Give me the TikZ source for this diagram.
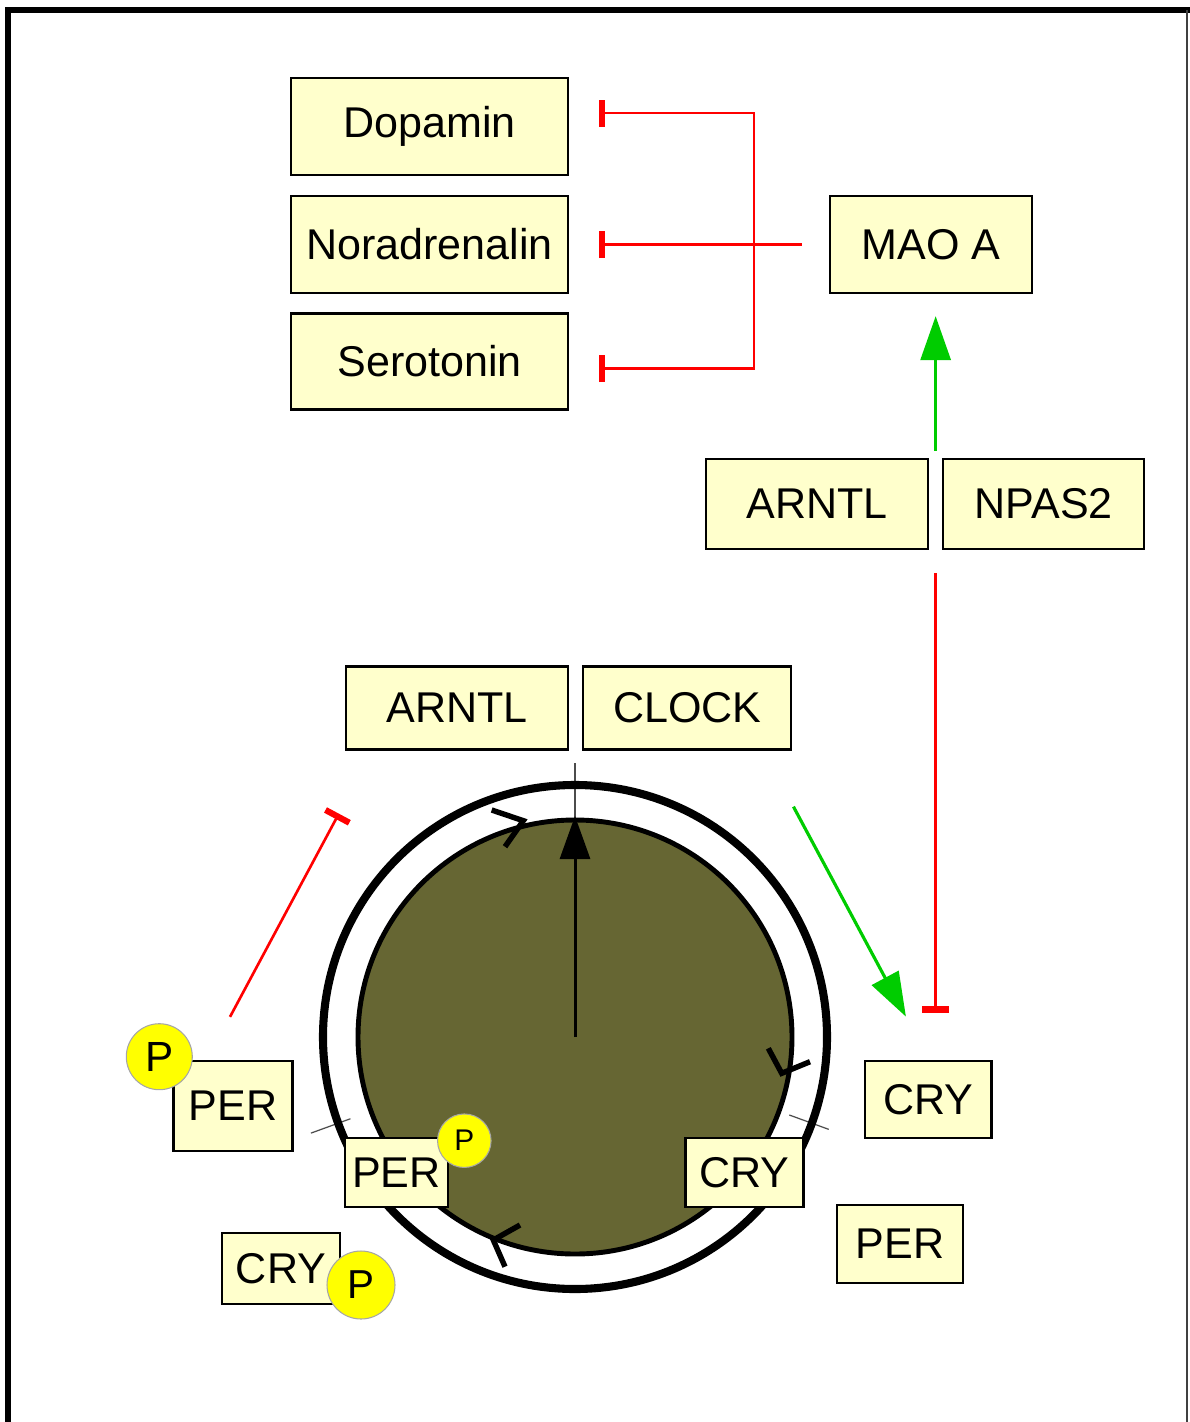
\documentclass[tikz,border=0pt]{standalone}
\usepackage{fontspec}
\setmainfont{Liberation Sans}
\usepackage{tikz}
\usetikzlibrary{arrows.meta,positioning,calc}
\definecolor{boxfill}{RGB}{255,255,204}
\definecolor{nucleus}{RGB}{102,102,51}
\definecolor{actgreen}{RGB}{0,204,0}
\definecolor{inhred}{RGB}{255,0,0}
\definecolor{phos}{RGB}{255,255,0}

\begin{document}
\begin{tikzpicture}[x=0.2mm,y=-0.2mm,
  every node/.style={font=\fontsize{24.5}{29}\selectfont,align=center},
  gene/.style={draw,fill=boxfill,line width=1.3pt,inner sep=0pt},
  phosp/.style={draw=gray!70,fill=phos,circle,inner sep=0pt,line width=0.6pt},
  act/.style={actgreen,line width=1.8pt,-{Triangle[width=0.6cm,length=0.88cm]}},
  inhib/.style={inhred,line width=1.5pt,-{Bar[width=0.54cm,line width=3.5pt]}},
  chev/.style={line width=3.1pt},
  ringtick/.style={gray!60!black,line width=0.7pt}]
  \useasboundingbox (0,0) rectangle (1189,1422);
  \draw[line width=3.4pt] (8,1440) -- (8,10) -- (1192,10);
  \draw[line width=1.2pt,gray!50!black] (1187,10) -- (1187,1440);

  \coordinate (c) at (575,1037);
  \coordinate (hand) at ($(c)+(270:221)$);
  \foreach \a/\ri/\ro in {20/228/270,160/239/281,270/216/274}
    \draw[ringtick] ($(c)+(\a:\ri)$) -- ($(c)+(\a:\ro)$);
  \draw[line width=4.6pt] (c) circle[radius=5.04cm];
  \draw[line width=2.8pt,fill=nucleus] (c) circle[radius=4.34cm];
  \draw[chev] (491.7,810) -- (523.3,820.7) -- (505,846.7);
  \draw[chev] (768.3,1048.3) -- (781.7,1073.3) -- (810,1061.7);
  \draw[chev] (520,1225) -- (493.3,1240) -- (505,1266.7);
  \draw[line width=1.7pt,-{Triangle[width=0.6cm,length=0.86cm]}] (c) -- (hand);

  \node[gene,minimum width=5.54cm,minimum height=1.94cm] (dopa) at (429.5,126.5) {Dopamin};
  \node[gene,minimum width=5.54cm,minimum height=1.94cm,below=0.37cm of dopa] (nor) {Noradrenalin};
  \node[gene,minimum width=5.54cm,minimum height=1.92cm,below=0.37cm of nor] (sero) {Serotonin};
  \node[gene,minimum width=4.04cm,minimum height=1.94cm] (mao) at (931,244.5) {MAO A};
  \node[gene,minimum width=4.44cm,minimum height=1.8cm] (arntl) at (817,504) {ARNTL};
  \node[gene,minimum width=4.02cm,minimum height=1.8cm,right=0.26cm of arntl] (npas) {NPAS2};
  \node[gene,minimum width=4.44cm,minimum height=1.66cm] (arntlc) at (457,708) {ARNTL};
  \node[gene,minimum width=4.16cm,minimum height=1.66cm,right=0.26cm of arntlc] (clock) {CLOCK};
  \node[gene,minimum width=2.38cm,minimum height=1.8cm] (perp) at (233,1106) {PER};
  \node[gene,minimum width=2.06cm,minimum height=1.37cm] (perin) at (396.5,1172.5) {PER};
  \node[gene,minimum width=2.36cm,minimum height=1.42cm] (crybl) at (281,1268.7) {CRY};
  \node[gene,minimum width=2.36cm,minimum height=1.38cm] (cryin) at (744.5,1172.5) {CRY};
  \node[gene,minimum width=2.53cm,minimum height=1.55cm] (cryout) at (928.3,1099.5) {CRY};
  \node[gene,minimum width=2.53cm,minimum height=1.57cm] (perout) at (900,1244) {PER};
  \node[phosp,minimum size=1.32cm,font=\fontsize{24}{28}\selectfont] (pa) at (159.3,1056.7) {P};
  \node[phosp,minimum size=1.07cm,font=\fontsize{17}{20}\selectfont] (pb) at (464.3,1140.7) {P};
  \node[phosp,minimum size=1.36cm,font=\fontsize{23}{27}\selectfont] (pc) at (361,1285) {P};

  \coordinate (split) at ($(mao.west)+(-75,0)$);
  \coordinate (mfree) at ($(mao.west)+(-27,0)$);
  \draw[inhib,shorten >=0.6cm] (mfree) -- (mfree -| nor.east);
  \draw[inhib,shorten >=0.6cm] (split) |- ([yshift=0.27cm]dopa.east);
  \draw[inhib,shorten >=0.6cm] (split) |- ([yshift=-0.14cm]sero.east);
  \coordinate (ctop) at ($(arntl.north east)!0.5!(npas.north west)$);
  \coordinate (cbot) at ($(arntl.south east)!0.5!(npas.south west)$);
  \draw[act,shorten <=0.14cm,shorten >=0.44cm] (ctop) -- (ctop |- mao.south);
  \draw[inhib,shorten <=0.46cm,shorten >=0.94cm] (cbot) -- (cbot |- cryout.north);
  \coordinate (g1) at ($(clock.south east)+(1,56)$);
  \coordinate (g2) at ($(cryout.north west)+(42,-43)$);
  \draw[act] (g1) -- (g2);
  \coordinate (r1) at ($(perp.north)+(-3,-43)$);
  \coordinate (r2) at ($(arntlc.south west)+(-6,63)$);
  \draw[inhib] (r1) -- (r2);
\end{tikzpicture}
\end{document}
